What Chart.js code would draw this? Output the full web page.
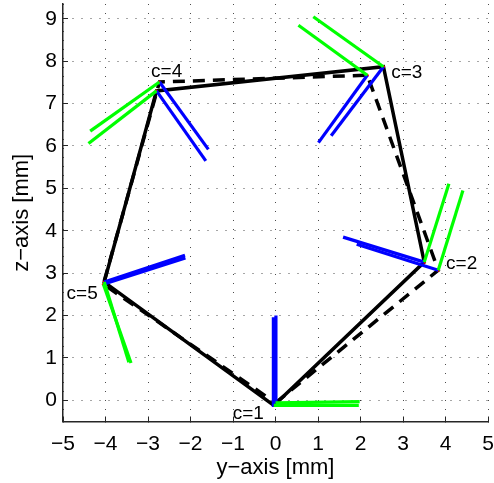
<!DOCTYPE html>
<html>
<head>
<meta charset="utf-8">
<script src="https://cdn.jsdelivr.net/npm/chart.js@4.4.0/dist/chart.umd.min.js"></script>
<style>
  html, body { margin: 0; padding: 0; background: #fff; }
  #chart { display: block; }
</style>
</head>
<body>
<canvas id="chart" width="494" height="483"></canvas>
<script>
// vertices c=1..5, y-axis [mm] / z-axis [mm]
const solidY = [-0.04, 3.50, 2.54, -2.80, -4.03];
const solidZ = [-0.12, 3.26, 7.87, 7.30, 2.79];
const dashedY = [0.00, 3.83, 2.16, -2.73, -4.05];
const dashedZ = [-0.06, 3.07, 7.67, 7.51, 2.74];

// tips of the direction vectors drawn from each vertex
const greenSolidY = [1.96, 4.08, 0.89, -4.40, -3.45];
const greenSolidZ = [-0.12, 5.11, 9.05, 6.06, 0.90];
const greenDashedY = [1.98, 4.41, 0.54, -4.36, -3.40];
const greenDashedZ = [-0.03, 4.95, 8.85, 6.35, 0.88];
const blueSolidY = [-0.05, 1.59, 1.31, -1.64, -2.13];
const blueSolidZ = [1.96, 3.85, 6.24, 5.65, 3.42];
const blueDashedY = [0.01, 1.91, 1.01, -1.58, -2.12];
const blueDashedZ = [2.00, 3.68, 6.08, 5.92, 3.36];

const labelText = ['c=1', 'c=2', 'c=3', 'c=4', 'c=5'];
const labelY = [-0.64, 4.38, 3.09, -2.56, -4.55];
const labelZ = [-0.31, 3.21, 7.72, 7.74, 2.52];

const xTicks = [-5, -4, -3, -2, -1, 0, 1, 2, 3, 4, 5];
const yTicks = [0, 1, 2, 3, 4, 5, 6, 7, 8, 9];

const FONT = '"Liberation Sans", Arial, sans-serif';
Chart.defaults.font.family = FONT;
Chart.defaults.color = '#000';

function closed(ys, zs) {
    const pts = ys.map((v, i) => ({x: v, y: zs[i]}));
    pts.push(pts[0]);
    return pts;
}

function vectors(fromY, fromZ, toY, toZ, color) {
    return fromY.map((v, i) => ({
        data: [{x: v, y: fromZ[i]}, {x: toY[i], y: toZ[i]}],
        showLine: true,
        borderColor: color,
        borderWidth: 3.2,
        borderCapStyle: 'butt',
        pointRadius: 0,
        order: 0,
    }));
}

function minusLabel(v) {
    return v < 0 ? '\u2212' + Math.abs(v) : String(v);
}

const vertexLabels = {
    id: 'vertexLabels',
    afterDatasetsDraw(chart) {
        const {ctx, scales: {x, y}} = chart;
        ctx.save();
        ctx.font = '19px ' + FONT;
        ctx.fillStyle = '#000';
        ctx.textAlign = 'center';
        ctx.textBaseline = 'middle';
        labelText.forEach((t, i) => {
            ctx.fillText(t, x.getPixelForValue(labelY[i]), y.getPixelForValue(labelZ[i]));
        });
        ctx.restore();
    },
};

const gridOpts = {
    color: 'rgba(0, 0, 0, 0.7)',
    lineWidth: 1,
    tickLength: -5,
    tickColor: '#262626',
    tickWidth: 1,
    tickBorderDash: [],
};
const borderOpts = {
    display: true,
    color: '#262626',
    width: 1.5,
    dash: [1, 8],
};

new Chart(document.getElementById('chart').getContext('2d'), {
    type: 'scatter',
    data: {
        datasets: [
            ...vectors(solidY, solidZ, greenSolidY, greenSolidZ, '#00ff00'),
            ...vectors(dashedY, dashedZ, greenDashedY, greenDashedZ, '#00ff00'),
            ...vectors(solidY, solidZ, blueSolidY, blueSolidZ, '#0000ff'),
            ...vectors(dashedY, dashedZ, blueDashedY, blueDashedZ, '#0000ff'),
            {
                data: closed(solidY, solidZ),
                showLine: true,
                borderColor: '#000',
                borderWidth: 3.5,
                pointRadius: 1.5,
                pointBorderWidth: 0,
                pointBackgroundColor: '#ff0000',
                order: 1,
            },
            {
                data: closed(dashedY, dashedZ),
                showLine: true,
                borderColor: '#000',
                borderWidth: 3.5,
                borderDash: [12, 8],
                pointRadius: 1.5,
                pointBorderWidth: 0,
                pointBackgroundColor: '#ff0000',
                order: 2,
            },
        ],
    },
    options: {
        responsive: false,
        animation: false,
        events: [],
        layout: {
            padding: {top: 4, right: 6, left: 0, bottom: 0},
        },
        plugins: {
            legend: {display: false},
            tooltip: {enabled: false},
        },
        scales: {
            x: {
                type: 'linear',
                min: -5,
                max: 5,
                afterBuildTicks: (scale) => {
                    scale.ticks = xTicks.map((v) => ({value: v}));
                },
                afterFit: (scale) => {
                    scale.height = 61.5;
                    scale.paddingLeft = 0;
                    scale.paddingRight = 0;
                },
                ticks: {
                    font: {size: 21},
                    color: '#000',
                    padding: 15,
                    maxRotation: 0,
                    autoSkip: false,
                    callback: minusLabel,
                },
                grid: gridOpts,
                border: borderOpts,
                title: {
                    display: true,
                    text: 'y\u2212axis [mm]',
                    font: {size: 22},
                    color: '#000',
                    padding: {top: 0, bottom: 2},
                },
            },
            y: {
                type: 'linear',
                min: -0.5,
                max: 9.35,
                afterBuildTicks: (scale) => {
                    scale.ticks = yTicks.map((v) => ({value: v}));
                },
                afterFit: (scale) => {
                    scale.width = 63;
                    scale.paddingTop = 0;
                    scale.paddingBottom = 0;
                },
                ticks: {
                    font: {size: 21},
                    color: '#000',
                    padding: 11,
                    autoSkip: false,
                    callback: minusLabel,
                },
                grid: gridOpts,
                border: borderOpts,
                title: {
                    display: true,
                    text: 'z\u2212axis [mm]',
                    font: {size: 22},
                    color: '#000',
                    padding: {top: 9, bottom: 0},
                },
            },
        },
    },
    plugins: [vertexLabels],
});
</script>
</body>
</html>
